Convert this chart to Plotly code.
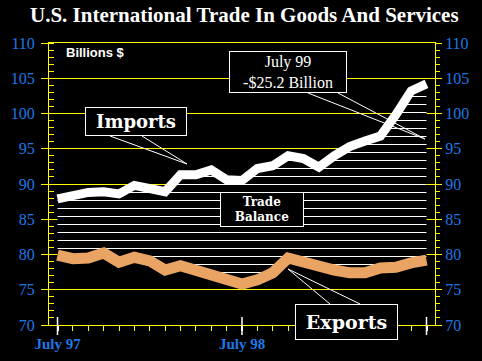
import numpy as np
import plotly.graph_objects as go

# ---------------- data ----------------
months = list(range(25))  # July 97 ... July 99 (monthly)
imports = [87.9, 88.4, 88.8, 88.9, 88.6, 89.8, 89.4, 88.9, 91.3, 91.3, 92.0, 90.6, 90.5,
           92.2, 92.6, 94.0, 93.6, 92.4, 94.0, 95.3, 96.1, 96.8, 99.8, 103.2, 104.2]
exports = [79.9, 79.4, 79.5, 80.2, 78.9, 79.6, 79.1, 77.8, 78.4, 77.8, 77.0, 76.7, 75.8,
           76.4, 77.4, 79.5, 78.8, 78.1, 77.8, 77.4, 77.4, 78.1, 78.2, 78.8, 79.2]
x_tick_vals = [0, 12, 24]
x_tick_text = ["July 97", "July 98", ""]
y_tick_vals = [70, 75, 80, 85, 90, 95, 100, 105, 110]
title_text = "U.S. International Trade In Goods And Services"

# ---------------- geometry ----------------
W, H = 482, 361
L, R, T, B = 49, 47, 43, 36
PW, PH = W - L - R, H - T - B
XR = [-0.553, 24.553]
YR = [70, 110]

def px2x(px):
    return XR[0] + (px - L) / PW * (XR[1] - XR[0])

def py2y(py):
    return YR[0] + (H - B - py) / PH * (YR[1] - YR[0])

def px2p(px):
    return (px - L) / PW

def py2p(py):
    return (H - B - py) / PH

YELLOW = "#FFFF00"
BLUE = "#1E78E6"
ORANGE = "#E9A464"

# hatch lines (trade balance) between the two series
step = 8 / PH * (YR[1] - YR[0])
base = py2y(248.5)
levels = base + step * np.arange(-7, 24)
xs = np.linspace(0, 24, 4801)
Ii = np.interp(xs, months, imports)
Ei = np.interp(xs, months, exports)
hx, hy = [], []
for lv in levels:
    mask = (Ei < lv) & (Ii > lv)
    d = np.flatnonzero(np.diff(np.concatenate([[0], mask.astype(int), [0]])))
    for s, e in zip(d[0::2], d[1::2] - 1):
        hx += [xs[s], xs[e], None]
        hy += [lv, lv, None]

fig = go.Figure()
fig.add_trace(go.Scatter(x=months, y=exports, mode="lines", line=dict(width=0, color="black"),
                         hoverinfo="skip"))
fig.add_trace(go.Scatter(x=months, y=imports, mode="lines", line=dict(width=0, color="black"),
                         fill="tonexty", fillcolor="black", hoverinfo="skip"))
fig.add_trace(go.Scatter(x=hx, y=hy, mode="lines", line=dict(width=1, color="white"),
                         yaxis="y2", hoverinfo="skip"))
fig.add_trace(go.Scatter(x=months, y=exports, mode="lines", line=dict(width=11, color=ORANGE),
                         yaxis="y2", hoverinfo="skip"))
fig.add_trace(go.Scatter(x=months, y=imports, mode="lines", line=dict(width=9, color="white"),
                         yaxis="y2", hoverinfo="skip"))

axis_common = dict(range=YR, tickvals=y_tick_vals, showline=True, linecolor=YELLOW, linewidth=1,
                   ticks="outside", tickcolor=YELLOW, tickwidth=1, zeroline=False,
                   automargin=False,
                   tickfont=dict(family="Liberation Serif", size=16, color=BLUE))

fig.update_layout(
    width=W, height=H, margin=dict(l=L, r=R, t=T, b=B, autoexpand=False),
    paper_bgcolor="black", plot_bgcolor="black", showlegend=False,
    xaxis=dict(range=XR, tickvals=x_tick_vals, ticktext=x_tick_text, showgrid=False,
               zeroline=False, showline=True, linecolor=YELLOW, linewidth=1, mirror=True,
               automargin=False,
               ticks="outside", ticklen=5, tickwidth=1.5, tickcolor="white",
               tickfont=dict(family="Liberation Serif", size=15, color=BLUE, weight="bold"),
               minor=dict(ticks="outside", dtick=1, tick0=0, ticklen=5, tickcolor=YELLOW,
                          tickwidth=1, showgrid=False)),
    yaxis=dict(**axis_common, showgrid=True, gridcolor=YELLOW, gridwidth=1, ticklen=7,
               ticklabelstandoff=3,
               minor=dict(ticks="inside", dtick=1, tick0=70, ticklen=5, tickcolor=YELLOW,
                          tickwidth=1, showgrid=False)),
    yaxis2=dict(**axis_common, overlaying="y", side="right", showgrid=False, ticklen=6,
                minor=dict(ticks="outside", dtick=1, tick0=70, ticklen=4, tickcolor=YELLOW,
                           tickwidth=1, showgrid=False)),
)

# white July ticks crossing the axis line
for v in x_tick_vals:
    fig.add_shape(type="line", xref="x", yref="paper", x0=v, x1=v, y0=py2p(335), y1=py2p(317),
                  line=dict(color="white", width=1.5))

# pointer wedges
def wedge(p1, apex, p2):
    return (f"M {px2x(p1[0])},{py2y(p1[1])} L {px2x(apex[0])},{py2y(apex[1])} "
            f"L {px2x(p2[0])},{py2y(p2[1])}")

for a, b, c in [((110, 136), (187, 164), (142, 136)),
                ((308, 93), (425, 139), (338, 93)),
                ((330, 304), (288, 269), (360, 304))]:
    fig.add_shape(type="path", xref="x", yref="y", path=wedge(a, b, c),
                  line=dict(color="white", width=1))

def box(text, cx, cy, w, h, size, family, bold):
    fig.add_annotation(x=px2p(cx), y=py2p(cy), xref="paper", yref="paper",
                       xanchor="center", yanchor="middle", showarrow=False, text=text,
                       font=dict(family=family, size=size, color="white",
                                 weight="bold" if bold else "normal"),
                       bgcolor="black", bordercolor="white", borderwidth=1, borderpad=0,
                       width=w - 2, height=h - 2)

box("Imports", 136, 121.5, 102, 29, 18, "DejaVu Serif", True)
box("Exports", 346.5, 322, 103, 36, 19, "DejaVu Serif", True)
box("Trade<br>Balance", 262, 209.5, 84, 35, 12, "DejaVu Serif", True)
box("July 99<br>-$25.2 Billion", 288, 72, 118, 42, 16, "Liberation Serif", False)

fig.add_annotation(x=px2p(64), y=py2p(52), xref="paper", yref="paper", xanchor="left",
                   yanchor="middle", showarrow=False, text="Billions $",
                   font=dict(family="Liberation Sans", size=13, color="white", weight="bold"))
fig.add_annotation(x=px2p(244), y=py2p(15), xref="paper", yref="paper", xanchor="center",
                   yanchor="middle", showarrow=False, text=title_text,
                   font=dict(family="Liberation Serif", size=21, color="white", weight="bold"))

post = ("var h=document.documentElement, b=document.body;"
        "h.style.margin='0';h.style.padding='0';h.style.overflow='hidden';h.style.height='361px';"
        "b.style.margin='0';b.style.padding='0';b.style.overflow='hidden';b.style.height='361px';"
        "b.style.background='black';"
        "var d=document.getElementById('{plot_id}');d.style.display='block';"
        "d.parentElement.style.display='block';d.parentElement.style.height='361px';"
        "d.parentElement.style.overflow='hidden';")
fig.write_html("out.html", config={"displayModeBar": False}, post_script=post)
